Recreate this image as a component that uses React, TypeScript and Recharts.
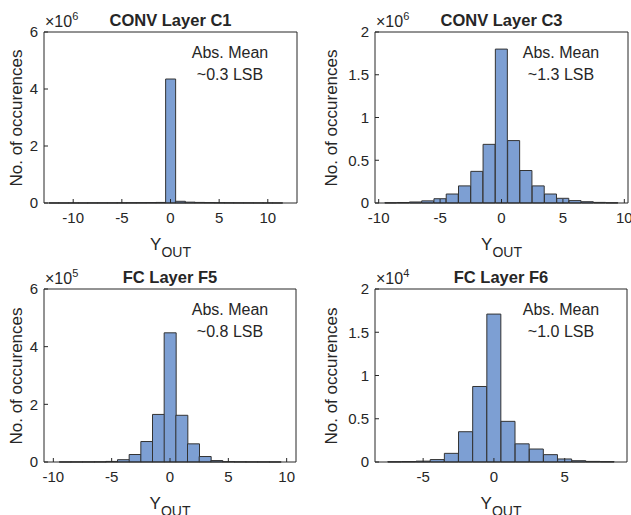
import React from "react";
import { BarChart, Bar, XAxis, YAxis } from "recharts";

// histogram bin centres and counts
const binsC1 = [-12, -11, -10, -9, -8, -7, -6, -5, -4, -3, -2, -1, 0, 1, 2, 3, 4, 5, 6, 7, 8, 9, 10, 11];
const countsC1 = [
  2000, 2000, 3000, 3000, 4000, 5000, 6000, 8000, 10000, 12000, 15000, 20000,
  4350000, 60000, 30000, 20000, 14000, 10000, 8000, 6000, 5000, 4000, 3000, 2500,
];

const binsC3 = [-9, -8, -7, -6, -5, -4, -3, -2, -1, 0, 1, 2, 3, 4, 5, 6, 7, 8, 9];
const countsC3 = [
  3000, 6000, 12000, 25000, 50000, 105000, 200000, 370000, 686000, 1800000,
  730000, 380000, 200000, 105000, 55000, 28000, 15000, 7000, 3000,
];

const binsF5 = [-9, -8, -7, -6, -5, -4, -3, -2, -1, 0, 1, 2, 3, 4, 5, 6, 7, 8, 9];
const countsF5 = [
  200, 300, 400, 600, 2000, 8000, 26000, 71000, 165000, 448000,
  162000, 63000, 19000, 5000, 1200, 600, 400, 300, 200,
];

const binsF6 = [-7, -6, -5, -4, -3, -2, -1, 0, 1, 2, 3, 4, 5, 6, 7, 8];
const countsF6 = [
  30, 50, 100, 280, 1000, 3500, 8730, 17100, 4700, 2100, 1500, 850, 350, 150, 70, 40,
];

const ticksX10 = [-10, -5, 0, 5, 10];
const ticksX5 = [-5, 0, 5];
const ticksY6 = [0, 2, 4, 6];
const ticksY2 = [0, 0.5, 1, 1.5, 2];

const TEXT = "#262626";
const AXIS = "#262626";
const BAR_FILL = "#7d9fd3";
const BAR_EDGE = "#333333";
const FONT = "'Liberation Sans', Arial, Helvetica, sans-serif";

const PLOT_TOP = 32;

interface PanelProps {
  title: string;
  mean: string;
  bins: number[];
  counts: number[];
  xDomain: [number, number];
  xTicks: number[];
  yTicks: number[];
  exponent: number;
  left: number;
  top: number;
  width: number;
  height: number;
  plotLeft: number;
  plotRight: number;
  plotBottom: number;
}

const fmt = (v: number, exponent: number): string => {
  const s = v / Math.pow(10, exponent);
  return String(Math.round(s * 100) / 100);
};

const Panel: React.FC<PanelProps> = ({
  title,
  mean,
  bins,
  counts,
  xDomain,
  xTicks,
  yTicks,
  exponent,
  left,
  top,
  width,
  height,
  plotLeft,
  plotRight,
  plotBottom,
}) => {
  const data = bins.map((b, i) => ({ bin: b, count: counts[i] }));
  const scale = Math.pow(10, exponent);
  const yDomain: [number, number] = [0, yTicks[yTicks.length - 1] * scale];
  const yTickValues = yTicks.map((t) => t * scale);
  const plotW = plotRight - plotLeft;
  const plotMidY = (PLOT_TOP + plotBottom) / 2;

  return (
    <div style={{ position: "absolute", left, top, width, height, fontFamily: FONT, color: TEXT }}>
      <BarChart
        width={width}
        height={height}
        data={data}
        margin={{ top: PLOT_TOP - 1, right: width - plotRight - 1, bottom: 0, left: 0 }}
        barCategoryGap={0}
        barGap={0}
      >
        <XAxis
          xAxisId="b"
          dataKey="bin"
          type="number"
          domain={xDomain}
          ticks={xTicks}
          interval={0}
          height={height - plotBottom}
          tickSize={-4}
          tickMargin={13}
          stroke={AXIS}
          tick={{ fill: TEXT, fontSize: 15, fontFamily: FONT }}
        />
        <XAxis
          xAxisId="t"
          orientation="top"
          dataKey="bin"
          type="number"
          domain={xDomain}
          ticks={xTicks}
          interval={0}
          height={1}
          tickSize={-4}
          tick={false}
          stroke={AXIS}
        />
        <YAxis
          yAxisId="l"
          type="number"
          domain={yDomain}
          ticks={yTickValues}
          interval={0}
          width={plotLeft}
          tickSize={-4}
          tickMargin={10}
          stroke={AXIS}
          tick={{ fill: TEXT, fontSize: 15, fontFamily: FONT }}
          tickFormatter={(v: number) => fmt(v, exponent)}
        />
        <YAxis
          yAxisId="r"
          orientation="right"
          type="number"
          domain={yDomain}
          ticks={yTickValues}
          interval={0}
          width={1}
          tickSize={-4}
          tick={false}
          stroke={AXIS}
        />
        <Bar
          xAxisId="b"
          yAxisId="l"
          dataKey="count"
          fill={BAR_FILL}
          stroke={BAR_EDGE}
          strokeWidth={1}
          isAnimationActive={false}
        />
      </BarChart>

      {/* title */}
      <div
        style={{
          position: "absolute",
          left: plotLeft,
          width: plotW,
          top: PLOT_TOP - 22,
          lineHeight: "20px",
          textAlign: "center",
          fontWeight: "bold",
          fontSize: 16.5,
        }}
      >
        {title}
      </div>

      {/* exponent */}
      <div
        style={{
          position: "absolute",
          left: plotLeft + 1,
          top: PLOT_TOP - 19,
          lineHeight: "18px",
          fontSize: 16,
          whiteSpace: "nowrap",
        }}
      >
        ×10
        <span style={{ fontSize: 11, position: "relative", top: -7 }}>{exponent}</span>
      </div>

      {/* annotation */}
      <div
        style={{
          position: "absolute",
          left: plotLeft + 186 - 60,
          width: 120,
          top: PLOT_TOP + 10,
          lineHeight: "22px",
          textAlign: "center",
          fontSize: 16,
        }}
      >
        <div>Abs. Mean</div>
        <div>{mean}</div>
      </div>

      {/* y label */}
      <div
        style={{
          position: "absolute",
          left: 17,
          top: plotMidY,
          transform: "translate(-50%, -50%) rotate(-90deg)",
          fontSize: 17,
          whiteSpace: "nowrap",
          lineHeight: "20px",
        }}
      >
        No. of occurences
      </div>

      {/* x label */}
      <div
        style={{
          position: "absolute",
          left: plotLeft,
          width: plotW,
          top: plotBottom + 42 - 10,
          lineHeight: "20px",
          textAlign: "center",
          fontSize: 17,
          whiteSpace: "nowrap",
        }}
      >
        Y<span style={{ fontSize: 14, position: "relative", top: 7 }}>OUT</span>
      </div>
    </div>
  );
};

export default function App() {
  return (
    <div
      style={{
        position: "absolute",
        left: 0,
        top: 0,
        width: 631,
        height: 515,
        background: "#ffffff",
        overflow: "hidden",
      }}
    >
      <Panel
        title="CONV Layer C1"
        mean="~0.3 LSB"
        bins={binsC1}
        counts={countsC1}
        xDomain={[-13, 13]}
        xTicks={ticksX10}
        yTicks={ticksY6}
        exponent={6}
        left={0}
        top={0}
        width={315}
        height={260}
        plotLeft={44}
        plotRight={297}
        plotBottom={203}
      />
      <Panel
        title="CONV Layer C3"
        mean="~1.3 LSB"
        bins={binsC3}
        counts={countsC3}
        xDomain={[-10.3, 10.3]}
        xTicks={ticksX10}
        yTicks={ticksY2}
        exponent={6}
        left={315}
        top={0}
        width={316}
        height={260}
        plotLeft={60}
        plotRight={313}
        plotBottom={203}
      />
      <Panel
        title="FC Layer F5"
        mean="~0.8 LSB"
        bins={binsF5}
        counts={countsF5}
        xDomain={[-10.8, 10.8]}
        xTicks={ticksX10}
        yTicks={ticksY6}
        exponent={5}
        left={0}
        top={257}
        width={315}
        height={258}
        plotLeft={44}
        plotRight={296}
        plotBottom={205}
      />
      <Panel
        title="FC Layer F6"
        mean="~1.0 LSB"
        bins={binsF6}
        counts={countsF6}
        xDomain={[-8.4, 9.4]}
        xTicks={ticksX5}
        yTicks={ticksY2}
        exponent={4}
        left={315}
        top={257}
        width={316}
        height={258}
        plotLeft={60}
        plotRight={312}
        plotBottom={205}
      />
    </div>
  );
}
